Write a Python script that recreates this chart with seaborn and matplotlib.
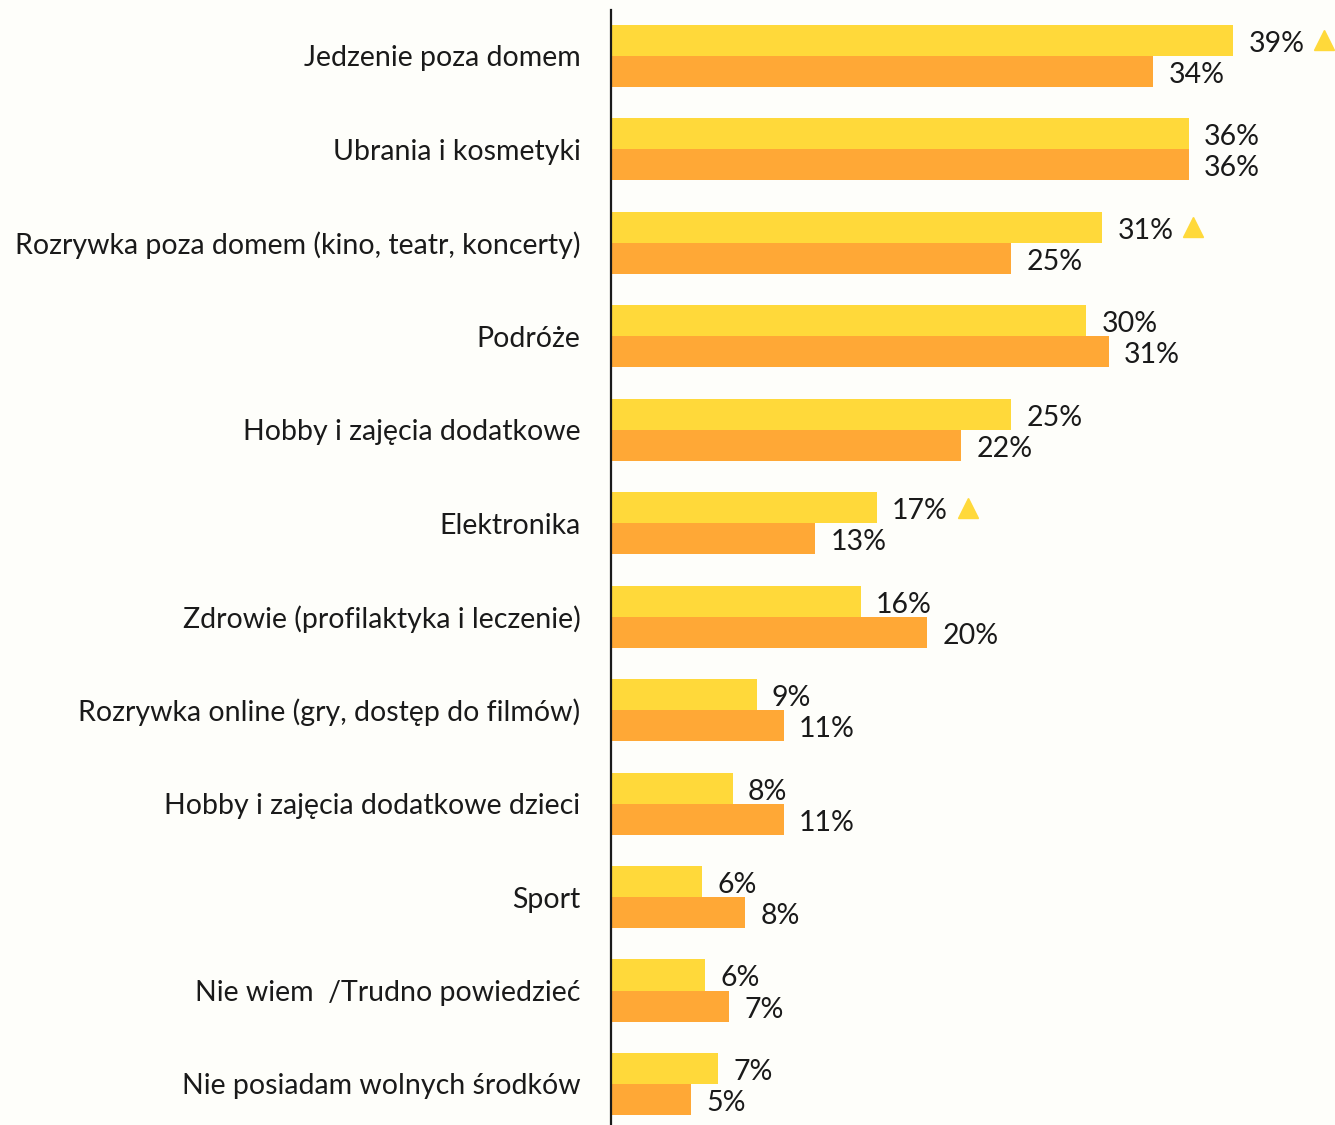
import pandas as pd
import numpy as np
import matplotlib
matplotlib.use('Agg')
import matplotlib.pyplot as plt
import matplotlib.transforms as mtransforms
import seaborn as sns

categories = ['Jedzenie poza domem', 'Ubrania i kosmetyki',
              'Rozrywka poza domem (kino, teatr, koncerty)', 'Podróże',
              'Hobby i zajęcia dodatkowe', 'Elektronika',
              'Zdrowie (profilaktyka i leczenie)',
              'Rozrywka online (gry, dostęp do filmów)',
              'Hobby i zajęcia dodatkowe dzieci', 'Sport',
              'Nie wiem  /Trudno powiedzieć', 'Nie posiadam wolnych środków']
current = [38.9, 36.1, 30.7, 29.7, 25.0, 16.6, 15.6, 9.1, 7.6, 5.7, 5.9, 6.7]
previous = [33.9, 36.1, 25.0, 31.1, 21.9, 12.75, 19.75, 10.8, 10.8, 8.4, 7.4, 5.0]
up_flags = [True, False, True, False, False, True, False, False, False, False, False, False]
series = ['Obecnie', 'Poprzednio']

bg = '#FEFEFA'
yellow = '#FFD93A'
orange = '#FFA836'

df = pd.DataFrame({'Kategoria': categories * 2,
                   'Wartosc': current + previous,
                   'Seria': [series[0]] * len(categories) + [series[1]] * len(categories)})

sns.set_style('white')
plt.rcParams['font.family'] = ['Lato', 'DejaVu Sans']

fig = plt.figure(figsize=(13.35, 11.25), dpi=100, facecolor=bg)
ax = fig.add_axes([611 / 1335, 0, 1 - 611 / 1335, 1115 / 1125])
ax.set_facecolor(bg)

sns.barplot(data=df, y='Kategoria', x='Wartosc', hue='Seria', order=categories,
            hue_order=series, palette=[yellow, orange], width=0.664,
            saturation=1, edgecolor='none', linewidth=0, legend=False, ax=ax)

for cont in ax.containers:
    labels = ax.bar_label(cont, fmt='{:.0f}%', padding=11, fontsize=20.5, color='#1a1a1a')
    for t in labels:
        t.xyann = (11, -2.5)

# triangles after the label of the current series
tri_trans = mtransforms.offset_copy(ax.transData, fig=fig, x=91, y=0, units='dots')
for i, flag in enumerate(up_flags):
    if flag:
        ax.plot(current[i], i - 0.166, marker='^', markersize=15, color=yellow,
                linestyle='none', transform=tri_trans, clip_on=False)

ax.set_xlim(0, 724 / 16)
ax.set_ylim(11.439, -0.492)
ax.set_xlabel('')
ax.set_ylabel('')
ax.set_xticks([])
ax.tick_params(axis='y', length=0, pad=22, labelsize=20.5, labelcolor='#1a1a1a')
for s in ['top', 'right', 'bottom']:
    ax.spines[s].set_visible(False)
ax.spines['left'].set_color('#1a1a1a')
ax.spines['left'].set_linewidth(1.6)

fig.savefig('out.png', dpi=100, facecolor=bg)
